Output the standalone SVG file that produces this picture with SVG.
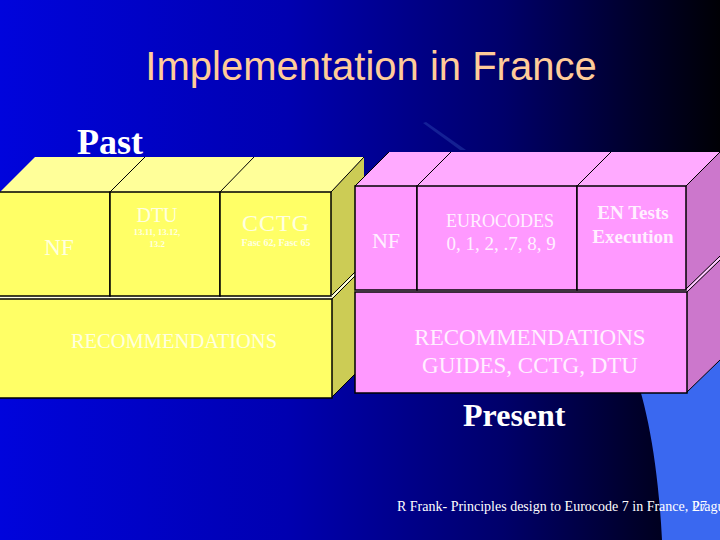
<svg xmlns="http://www.w3.org/2000/svg" width="720" height="540" viewBox="0 0 720 540">
<defs>
<linearGradient id="bg" x1="0" y1="0" x2="1" y2="0">
<stop offset="0" stop-color="#0004DC"/>
<stop offset="0.4" stop-color="#0000B0"/>
<stop offset="0.7" stop-color="#00006A"/>
<stop offset="0.88" stop-color="#00002C"/>
<stop offset="1" stop-color="#000005"/>
</linearGradient>
<style>
.yf{fill:#FFFF66;stroke:#000;stroke-width:1.5}
.yt{fill:#FFFF99}
.ys{fill:#CCCC55}
.pf{fill:#FF99FF;stroke:#000;stroke-width:1.5}
.pt{fill:#FFAAFF}
.ps{fill:#CC77CC}
.edge{stroke:#000;stroke-width:1;fill:none}
.lite{stroke:#FFFFE0;stroke-width:2;fill:none}
.ty{fill:#FFFFE0;font-family:"Liberation Serif",serif;text-anchor:middle}
.tp{fill:#FFF0FF;font-family:"Liberation Serif",serif;text-anchor:middle}
.lab{fill:#FFFFFF;font-family:"Liberation Serif",serif;font-weight:bold}
</style>
</defs>
<rect width="720" height="540" fill="url(#bg)"/>
<polygon points="423,123 426,122 466,150 460,150" fill="#3A5CC0" opacity="0.35"/>
<path d="M630,360 C646,400 658,460 662,540 L720,540 L720,330 Z" fill="#3A68F0"/>
<text x="371" y="80" font-family="Liberation Sans, Arial, sans-serif" font-size="40" fill="#FFCC99" text-anchor="middle">Implementation in France</text>
<text class="lab" x="77" y="154" font-size="36">Past</text>
<g id="past-block">
<polygon class="yt" points="0,192 35,157 364,157 331,192"/>
<polygon class="ys" points="331,192 364,157 364,365 331,398"/>
<line class="edge" x1="110" y1="192" x2="145" y2="157"/>
<line class="edge" x1="220" y1="192" x2="254" y2="157"/>
<line class="edge" x1="331" y1="192" x2="364" y2="157"/>
<line class="edge" x1="331" y1="398" x2="364" y2="365"/>
<line class="lite" x1="332" y1="297" x2="364" y2="265"/>
<line class="edge" x1="331" y1="296" x2="364" y2="263"/>
<line class="edge" x1="332" y1="299" x2="364" y2="267"/>
<rect x="0" y="295" width="332" height="5" fill="#FFFFE0"/>
</g>
<g id="past-nf">
<rect class="yf" x="-1" y="192" width="111" height="104"/>
<text class="ty" x="59" y="255" font-size="23">NF</text>
</g>
<g id="past-dtu">
<rect class="yf" x="110" y="192" width="110" height="104"/>
<text class="ty" x="157" y="222" font-size="20">DTU</text>
<text class="ty" x="157" y="235" font-size="9" font-weight="bold">13.11, 13.12,</text>
<text class="ty" x="157" y="247" font-size="9" font-weight="bold">13.2</text>
</g>
<g id="past-cctg">
<rect class="yf" x="220" y="192" width="111" height="104"/>
<text class="ty" x="276" y="231" font-size="24" letter-spacing="1">CCTG</text>
<text class="ty" x="276" y="246" font-size="10" font-weight="bold">Fasc 62, Fasc 65</text>
</g>
<g id="past-recommendations">
<rect class="yf" x="-1" y="299" width="333" height="99"/>
<text class="ty" x="174" y="348" font-size="20.5">RECOMMENDATIONS</text>
</g>
<g id="present-block">
<polygon class="pt" points="355,186 389,152 720,152 686,186"/>
<polygon class="ps" points="686,186 720,152 720,360 686,393"/>
<line class="edge" x1="355" y1="186" x2="389" y2="152"/>
<line class="edge" x1="417" y1="186" x2="451" y2="152"/>
<line class="edge" x1="577" y1="186" x2="611" y2="152"/>
<line class="edge" x1="686" y1="186" x2="720" y2="152"/>
<line class="edge" x1="686" y1="393" x2="720" y2="360"/>
<line x1="687" y1="290" x2="720" y2="258" stroke="#FFCCFF" stroke-width="2"/>
<line class="edge" x1="686" y1="289" x2="720" y2="256"/>
<line class="edge" x1="687" y1="292" x2="720" y2="260"/>
<rect x="355" y="289" width="332" height="4" fill="#FFCCFF"/>
</g>
<g id="present-nf">
<rect class="pf" x="355" y="186" width="62" height="104"/>
<text class="tp" x="386" y="248" font-size="22">NF</text>
</g>
<g id="present-eurocodes">
<rect class="pf" x="417" y="186" width="160" height="104"/>
<text class="tp" x="500" y="227" font-size="18">EUROCODES</text>
<text class="tp" x="501" y="250" font-size="19">0, 1, 2, .7, 8, 9</text>
</g>
<g id="present-en-tests">
<rect class="pf" x="577" y="186" width="109" height="104"/>
<text class="tp" x="633" y="219" font-size="19" font-weight="bold">EN Tests</text>
<text class="tp" x="633" y="243" font-size="19" font-weight="bold">Execution</text>
</g>
<g id="present-recommendations">
<rect class="pf" x="355" y="292" width="332" height="101"/>
<text class="tp" x="530" y="345" font-size="23">RECOMMENDATIONS</text>
<text class="tp" x="530" y="373" font-size="23">GUIDES, CCTG, DTU</text>
</g>
<g id="connectors"/>
<text class="lab" x="463" y="426" font-size="32">Present</text>
<text x="397" y="511" font-family="Liberation Serif, serif" font-size="14" fill="#FFFFFF">R Frank- Principles design to Eurocode 7 in France, Prague</text>
<text x="693" y="511" font-family="Liberation Serif, serif" font-size="14" fill="#FFFFFF">27</text>
</svg>
